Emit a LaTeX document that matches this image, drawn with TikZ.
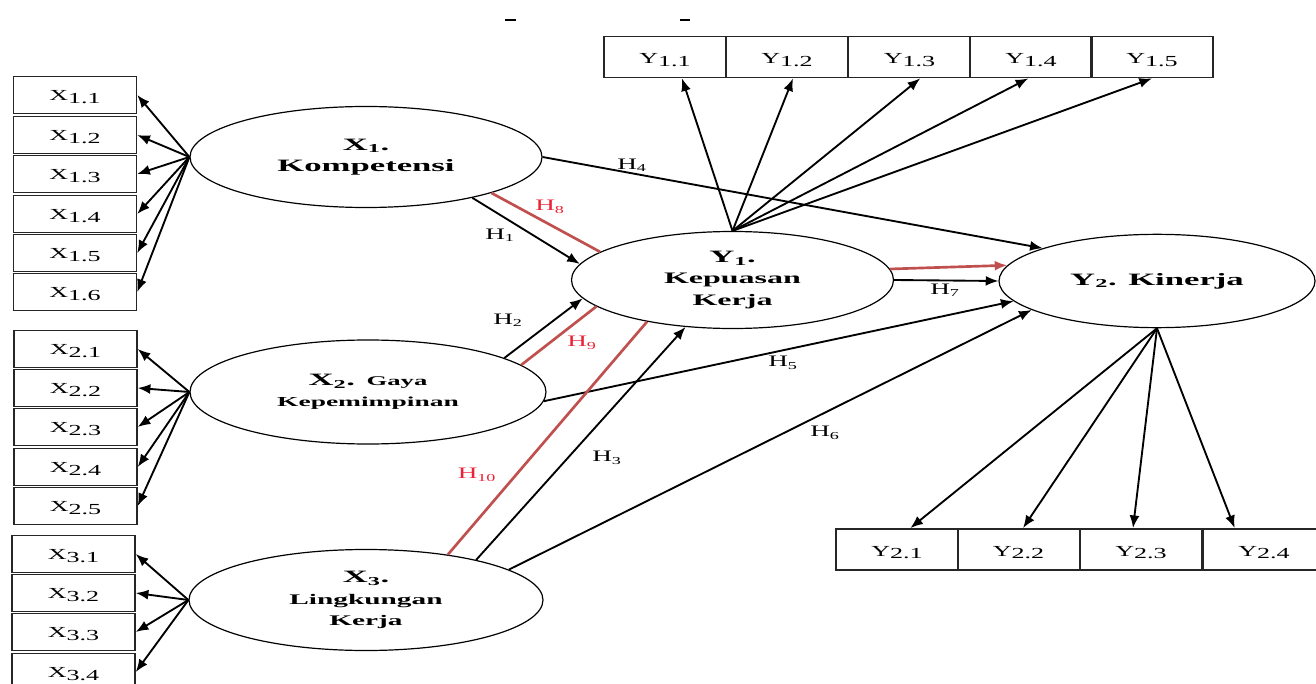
\documentclass[tikz,border=0pt]{standalone}
\usepackage{fontspec}
\setmainfont{Liberation Serif}
\newfontfamily\boxfont[FakeStretch=1.7]{Liberation Serif}
\newfontfamily\latfont[FakeStretch=2.0]{Liberation Serif}
\usetikzlibrary{shapes.geometric,arrows.meta,calc}
\definecolor{redline}{RGB}{192,80,77}
\definecolor{redtext}{RGB}{235,35,55}
\begin{document}
\begin{tikzpicture}[x=0.75pt,y=-0.75pt,
 ind/.style={draw=black!85,line width=1.1pt,minimum width=92.25pt,minimum height=27.75pt,inner sep=0pt,text height=10.5pt,text depth=2pt,font=\boxfont\fontsize{11.5}{13}\selectfont},
 indy/.style={ind,minimum width=91.5pt,minimum height=31pt,text height=12pt},
 lat/.style={draw,ellipse,line width=0.9pt,inner sep=0pt,align=center,font=\latfont\bfseries\fontsize{13}{16}\selectfont},
 arr/.style={-{Latex[length=9.5pt,width=7.5pt]},line width=1.4pt},
 redl/.style={draw=redline,line width=2pt},
 hl/.style={font=\boxfont\fontsize{12}{14}\selectfont,inner sep=1pt},
 hr/.style={hl,text=redtext}
]
\useasboundingbox (0,0) rectangle (1316,684);

% top remnants
\draw[line width=1.5pt] (505,20) -- (516,20);
\draw[line width=1.5pt] (680,20) -- (690,20);

% indicator boxes X1
\node[ind] (b11) at (75,95)  {X\raisebox{-2pt}{1.1}};
\node[ind] (b12) at (75,135) {X\raisebox{-2pt}{1.2}};
\node[ind] (b13) at (75,174) {X\raisebox{-2pt}{1.3}};
\node[ind] (b14) at (75,214) {X\raisebox{-2pt}{1.4}};
\node[ind] (b15) at (75,253) {X\raisebox{-2pt}{1.5}};
\node[ind] (b16) at (75,292) {X\raisebox{-2pt}{1.6}};
% X2
\node[ind] (b21) at (75.5,349) {X\raisebox{-2pt}{2.1}};
\node[ind] (b22) at (75.5,388) {X\raisebox{-2pt}{2.2}};
\node[ind] (b23) at (75.5,427) {X\raisebox{-2pt}{2.3}};
\node[ind] (b24) at (75.5,467) {X\raisebox{-2pt}{2.4}};
\node[ind] (b25) at (75.5,506) {X\raisebox{-2pt}{2.5}};
% X3
\node[ind] (b31) at (73.5,554) {X\raisebox{-2pt}{3.1}};
\node[ind] (b32) at (73.5,593) {X\raisebox{-2pt}{3.2}};
\node[ind] (b33) at (73.5,632) {X\raisebox{-2pt}{3.3}};
\node[ind] (b34) at (73.5,672) {X\raisebox{-2pt}{3.4}};
% Y1
\node[indy] (y11) at (665,57)    {Y\raisebox{-2pt}{1.1}};
\node[indy] (y12) at (787,57)    {Y\raisebox{-2pt}{1.2}};
\node[indy] (y13) at (909.5,57)  {Y\raisebox{-2pt}{1.3}};
\node[indy] (y14) at (1031,57)   {Y\raisebox{-2pt}{1.4}};
\node[indy] (y15) at (1152,57)   {Y\raisebox{-2pt}{1.5}};
% Y2
\node[indy] (y21) at (897,549.5)   {Y\raisebox{-2pt}{2.1}};
\node[indy] (y22) at (1018.5,549.5){Y\raisebox{-2pt}{2.2}};
\node[indy] (y23) at (1141,549.5)  {Y\raisebox{-2pt}{2.3}};
\node[indy] (y24) at (1264,549.5)  {Y\raisebox{-2pt}{2.4}};

% latent variables
\node[lat,minimum width=264pt,minimum height=75.75pt] (x1) at (366,157)
  {X\textsubscript{1}.\\Kompetensi};
\node[lat,minimum width=267pt,minimum height=78pt] (x2) at (368,392)
  {X\textsubscript{2}. {\fontsize{10}{12}\selectfont Gaya}\\{\fontsize{10.3}{12}\selectfont Kepemimpinan}};
\node[lat,minimum width=265.5pt,minimum height=75.75pt] (x3) at (366,600)
  {X\textsubscript{3}.\\{\fontsize{11}{13}\selectfont Lingkungan}\\{\fontsize{11}{13}\selectfont Kerja}};
\node[lat,minimum width=241.5pt,minimum height=72.75pt] (y1) at (732.5,280)
  {Y\textsubscript{1}.\\{\fontsize{12}{14}\selectfont Kepuasan}\\{\fontsize{12}{14}\selectfont Kerja}};
\node[lat,minimum width=237pt,minimum height=70pt] (y2) at (1157,281)
  {Y\textsubscript{2}. Kinerja};

% indicator arrows
\foreach \i in {1,...,6} \draw[arr] (x1.west) -- (b1\i.east);
\foreach \i in {1,...,5} \draw[arr] (x2.west) -- (b2\i.east);
\foreach \i in {1,...,4} \draw[arr] (x3.west) -- (b3\i.east);
\draw[arr] (y1.north) -- ([xshift=12.75pt]y11.south);
\draw[arr] (y1.north) -- ([xshift=4.5pt]y12.south);
\draw[arr] (y1.north) -- ([xshift=8pt]y13.south);
\draw[arr] (y1.north) -- ([xshift=-2pt]y14.south);
\draw[arr] (y1.north) -- (y15.south);
\draw[arr] (y2.south) -- ([xshift=10pt]y21.north);
\draw[arr] (y2.south) -- ([xshift=3.4pt]y22.north);
\draw[arr] (y2.south) -- ([xshift=-6pt]y23.north);
\draw[arr] (y2.south) -- ([xshift=-22pt]y24.north);

% structural paths
\draw[arr] (x1.-21.6) -- (y1.174.4);
\draw[redl] (x1.-16) -- (y1.168.4);
\draw[arr] (x1.east) -- (y2.164);
\draw[arr] (x2.14.8) -- (y1.187.4);
\draw[redl] (x2.10.4) -- (y1.191.8);
\draw[arr] (x2.-3.3) -- (y2.188);
\draw[redl] (x3.29.9) -- (y1.206.8);
\draw[arr] (x3.20.4) -- (y1.225);
\draw[arr] (x3.12.6) -- (y2.193.5);
\draw[arr] (y1.east) -- (y2.west);
\draw[redl,-{Latex[length=9.5pt,width=7.5pt]}] (y1.4.3) -- (y2.174.7);

% labels
\node[hl] (h1) at (500,235) {H\textsubscript{1}};
\node[hl] (h2) at (508,320) {H\textsubscript{2}};
\node[hl] (h3) at (607,458) {H\textsubscript{3}};
\node[hl] (h4) at (632,165) {H\textsubscript{4}};
\node[hl] (h5) at (783,363) {H\textsubscript{5}};
\node[hl] (h6) at (825,433) {H\textsubscript{6}};
\node[hl] (h7) at (945,290) {H\textsubscript{7}};
\node[hr] (h8) at (550,207) {H\textsubscript{8}};
\node[hr] (h9) at (582,343) {H\textsubscript{9}};
\node[hr] (h10) at (477,475) {H\textsubscript{10}};
\end{tikzpicture}
\end{document}
